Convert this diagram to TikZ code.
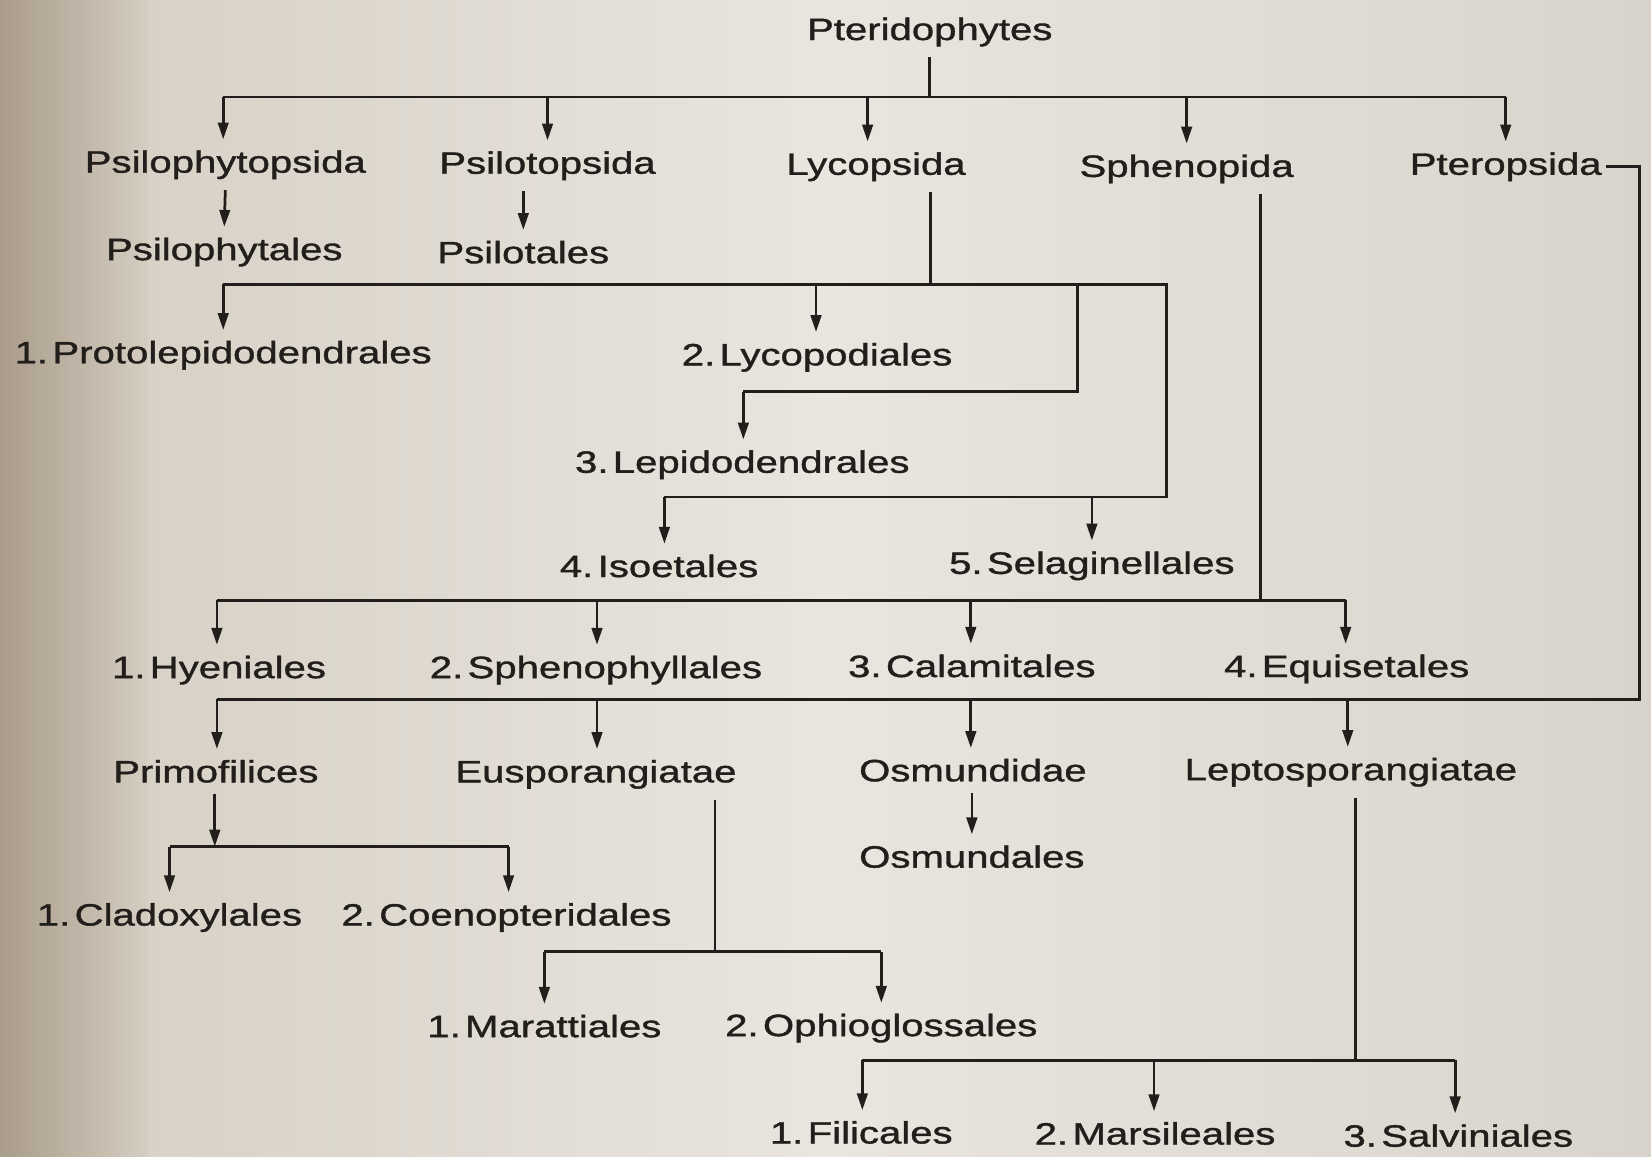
\documentclass[tikz,border=0pt]{standalone}
\usepackage{fontspec}
\setmainfont{Liberation Sans}[FakeStretch=1.3,FakeBold=1.2]
\usetikzlibrary{arrows.meta}
\definecolor{ink}{HTML}{221E1B}
\definecolor{bgL}{HTML}{D4CDC1}
\definecolor{bgM}{HTML}{E9E5DF}
\definecolor{bgR}{HTML}{D9D4CB}
\definecolor{bgE}{HTML}{AA9C8A}
\newcommand{\nsp}{\hspace{0.14em}}
\begin{document}
\begin{tikzpicture}[x=0.5pt,y=-0.5pt,
  lbl/.style={anchor=base, inner xsep=0pt, inner ysep=5pt, text=ink, font=\fontsize{14.66pt}{17pt}\selectfont},
  ln/.style={draw=ink, line width=1.3pt},
  arr/.style={ln, -{Triangle[length=8pt,width=5pt]}}]
% background
\useasboundingbox (0,0) rectangle (1568,1098);
\fill[left color=bgL, right color=bgR, middle color=bgM] (0,0) rectangle (1568,1098);
\fill[left color=bgE, right color=bgL] (0,0) rectangle (140,1098);

% nodes
\node[lbl] (pter) at (883,38) {Pteridophytes};
\node[lbl] (psph) at (214,164) {Psilophytopsida};
\node[lbl] (psil) at (520,165) {Psilotopsida};
\node[lbl] (lyco) at (832,166) {Lycopsida};
\node[lbl] (sphe) at (1127,168) {Sphenopida};
\node[lbl] (pterop) at (1430,166) {Pteropsida};
\node[lbl] (psphl) at (213,247) {Psilophytales};
\node[lbl] (psill) at (497,250) {Psilotales};
\node[lbl] (protol) at (212,345) {1.\nsp Protolepidodendrales};
\node[lbl] (lycod) at (776,347) {2.\nsp Lycopodiales};
\node[lbl] (lepid) at (705,449) {3.\nsp Lepidodendrales};
\node[lbl] (isoet) at (626,548) {4.\nsp Isoetales};
\node[lbl] (selag) at (1037,545) {5.\nsp Selaginellales};
\node[lbl] (hyen) at (208,644) {1.\nsp Hyeniales};
\node[lbl] (sphph) at (566,644) {2.\nsp Sphenophyllales};
\node[lbl] (calam) at (923,643) {3.\nsp Calamitales};
\node[lbl] (equis) at (1279,643) {4.\nsp Equisetales};
\node[lbl] (primo) at (205,743) {Primofilices};
\node[lbl] (euspo) at (566,743) {Eusporangiatae};
\node[lbl] (osmi) at (924,742) {Osmundidae};
\node[lbl] (lepto) at (1283,741) {Leptosporangiatae};
\node[lbl] (osml) at (923,824) {Osmundales};
\node[lbl] (clado) at (161,879) {1.\nsp Cladoxylales};
\node[lbl] (coeno) at (481,879) {2.\nsp Coenopteridales};
\node[lbl] (maratt) at (517,985) {1.\nsp Marattiales};
\node[lbl] (ophio) at (837,984) {2.\nsp Ophioglossales};
\node[lbl] (filic) at (818,1086) {1.\nsp Filicales};
\node[lbl] (marsi) at (1097,1087) {2.\nsp Marsileales};
\node[lbl] (salvi) at (1385,1089) {3.\nsp Salviniales};

% top level
\coordinate (t0) at (883,92);
\coordinate (t1) at (212,92);
\coordinate (t2) at (520,92);
\coordinate (t3) at (824,92);
\coordinate (t4) at (1127,92);
\coordinate (t5) at (1430,92);
\draw[ln] (pter.south) -- (t0);
\draw[ln] (t1) -- (t5);
\draw[arr] (t1) -- (t1 |- psph.north);
\draw[arr] (t2) -- (t2 |- psil.north);
\draw[arr] (t3) -- (t3 |- lyco.north);
\draw[arr] (t4) -- (t4 |- sphe.north);
\draw[arr] (t5) -- (t5 |- pterop.north);

\draw[arr] (psph.south) -- (psphl.north);
\draw[arr] (psil.south -| psill) -- (psill.north);

% Lycopsida
\coordinate (l0) at (884,270);
\coordinate (l1) at (212,270);
\coordinate (l2) at (775,270);
\coordinate (l3) at (1023,270);
\coordinate (l4) at (1108,270);
\coordinate (l5) at (1108,472);
\coordinate (l6) at (631,472);
\coordinate (l7) at (1037,472);
\coordinate (l8) at (1023,372);
\coordinate (l9) at (706,372);
\draw[ln] (lyco.south -| l0) -- (l0);
\draw[ln] (l1) -- (l4) -- (l5) -- (l6);
\draw[arr] (l1) -- (l1 |- protol.north);
\draw[arr] (l2) -- (l2 |- lycod.north);
\draw[ln] (l3) -- (l8) -- (l9);
\draw[arr] (l9) -- (l9 |- lepid.north);
\draw[arr] (l6) -- (l6 |- isoet.north);
\draw[arr] (l7) -- (l7 |- selag.north);

% Sphenopida
\coordinate (s0) at (1197,570);
\coordinate (s1) at (206,570);
\coordinate (s2) at (567,570);
\coordinate (s3) at (922,570);
\coordinate (s4) at (1278,570);
\draw[ln] (sphe.south -| s0) -- (s0);
\draw[ln] (s1) -- (s4);
\draw[arr] (s1) -- (s1 |- hyen.north);
\draw[arr] (s2) -- (s2 |- sphph.north);
\draw[arr] (s3) -- (s3 |- calam.north);
\draw[arr] (s4) -- (s4 |- equis.north);

% Pteropsida
\coordinate (p1) at (1557,664);
\coordinate (p2) at (206,664);
\coordinate (p3) at (567,664);
\coordinate (p4) at (922,664);
\coordinate (p5) at (1280,664);
\draw[ln] ([xshift=2pt]pterop.east) -| (p1) -- (p2);
\draw[arr] (p2) -- (p2 |- primo.north);
\draw[arr] (p3) -- (p3 |- euspo.north);
\draw[arr] (p4) -- (p4 |- osmi.north);
\draw[arr] (p5) -- (p5 |- lepto.north);

% Primofilices
\coordinate (q0) at (204,804);
\coordinate (q1) at (161,804);
\coordinate (q2) at (483,804);
\draw[arr] (primo.south -| q0) -- (q0);
\draw[ln] (q1) -- (q2);
\draw[arr] (q1) -- (q1 |- clado.north);
\draw[arr] (q2) -- (q2 |- coeno.north);

% Osmundidae
\draw[arr] (osmi.south -| osml) -- (osml.north);

% Eusporangiatae
\coordinate (e0) at (679,904);
\coordinate (e1) at (517,904);
\coordinate (e2) at (837,904);
\draw[ln] (euspo.south -| e0) -- (e0);
\draw[ln] (e1) -- (e2);
\draw[arr] (e1) -- (e1 |- maratt.north);
\draw[arr] (e2) -- (e2 |- ophio.north);

% Leptosporangiatae
\coordinate (f0) at (1287,1007);
\coordinate (f1) at (819,1007);
\coordinate (f2) at (1096,1007);
\coordinate (f3) at (1382,1007);
\draw[ln] (lepto.south -| f0) -- (f0);
\draw[ln] (f1) -- (f3);
\draw[arr] (f1) -- (f1 |- filic.north);
\draw[arr] (f2) -- (f2 |- marsi.north);
\draw[arr] (f3) -- (f3 |- salvi.north);
\end{tikzpicture}
\end{document}
